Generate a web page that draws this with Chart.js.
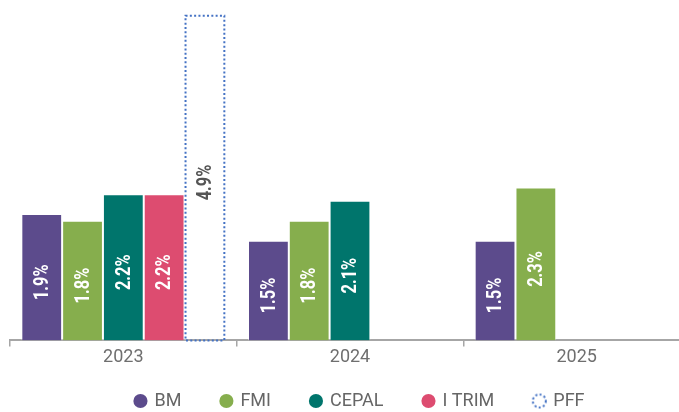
<!DOCTYPE html>
<html>
<head>
<meta charset="utf-8">
<script src="https://cdn.jsdelivr.net/npm/chart.js@4/dist/chart.umd.min.js"></script>
<style>
  html, body { margin: 0; padding: 0; background: #fff; overflow: hidden; }
  #wrap { position: relative; width: 700px; height: 412px; }
</style>
</head>
<body>
<div id="wrap"><canvas id="growthChart"></canvas></div>
<script>
// growth forecasts by source
const categories = ['2023', '2024', '2025'];
const bmValues = [1.9, 1.5, 1.5];
const fmiValues = [1.8, 1.8, 2.3];
const cepalValues = [2.2, 2.1, null];
const itrimValues = [2.2, null, null];
const pffValues = [4.9, null, null];

const PFF_BLUE = '#4472C4';

// dotted circle used as the PFF legend marker
function dottedCircle() {
  const c = document.createElement('canvas');
  c.width = 17; c.height = 17;
  const g = c.getContext('2d');
  g.strokeStyle = PFF_BLUE;
  g.lineWidth = 2;
  g.setLineDash([2, 2.3]);
  g.beginPath();
  g.arc(8.5, 8.5, 6.5, 0, Math.PI * 2);
  g.stroke();
  return c;
}
const pffMarker = dottedCircle();

// rotated percentage labels inside the bars
const barLabels = {
  id: 'barLabels',
  afterDatasetsDraw(chart) {
    const ctx = chart.ctx;
    chart.data.datasets.forEach((ds, di) => {
      const meta = chart.getDatasetMeta(di);
      meta.data.forEach((bar, i) => {
        const v = ds.data[i];
        if (v === null || v === undefined) return;
        const mid = (bar.y + bar.base) / 2 + 5;
        ctx.save();
        ctx.translate(bar.x, mid);
        ctx.rotate(-Math.PI / 2);
        ctx.scale(0.78, 1);
        ctx.font = 'bold 21px Roboto';
        ctx.fillStyle = ds.label === 'PFF' ? '#555555' : '#ffffff';
        ctx.textAlign = 'center';
        ctx.textBaseline = 'middle';
        ctx.fillText(v.toFixed(1) + '%', 0, 1);
        ctx.restore();
      });
    });
  }
};

// dotted outline for the PFF bar, drawn over the axis line
const dottedBar = {
  id: 'dottedBar',
  afterDraw(chart) {
    const ctx = chart.ctx;
    chart.data.datasets.forEach((ds, di) => {
      if (ds.label !== 'PFF') return;
      const meta = chart.getDatasetMeta(di);
      meta.data.forEach((bar, i) => {
        if (ds.data[i] === null) return;
        const left = bar.x - bar.width / 2 + 1;
        ctx.save();
        ctx.strokeStyle = PFF_BLUE;
        ctx.lineWidth = 2;
        ctx.setLineDash([2, 2.3]);
        ctx.strokeRect(left, bar.y + 1, bar.width - 2, bar.base - bar.y - 1);
        ctx.restore();
      });
    });
  }
};

// legend sits a little right of the plot centre and a bit higher in the original
const shiftLegend = {
  id: 'shiftLegend',
  afterLayout(chart) {
    chart.legend.left += 10;
    chart.legend.right += 10;
    chart.legend.top -= 16;
    chart.legend.bottom -= 16;
  }
};

const ctx = document.getElementById('growthChart').getContext('2d');
new Chart(ctx, {
  type: 'bar',
  data: {
    labels: categories,
    datasets: [
      { label: 'BM', data: bmValues, backgroundColor: '#5C4B8C' },
      { label: 'FMI', data: fmiValues, backgroundColor: '#86AE4D' },
      { label: 'CEPAL', data: cepalValues, backgroundColor: '#00756C' },
      { label: 'I TRIM', data: itrimValues, backgroundColor: '#DD4C70' },
      { label: 'PFF', data: pffValues, backgroundColor: 'rgba(0,0,0,0)' }
    ]
  },
  options: {
    responsive: true,
    maintainAspectRatio: false,
    animation: false,
    layout: { padding: { left: 10, right: 10, top: 8, bottom: -24 } },
    datasets: {
      bar: {
        categoryPercentage: 0.9,
        barPercentage: 1.0,
        borderWidth: 1,
        borderColor: 'rgba(255,255,255,0.45)',
        borderSkipped: 'bottom'
      }
    },
    scales: {
      x: {
        grid: {
          display: true,
          drawOnChartArea: false,
          drawTicks: true,
          tickLength: 6,
          color: '#a6a6a6',
          lineWidth: 1.5
        },
        border: { display: true, color: '#a6a6a6', width: 2 },
        ticks: {
          color: '#6f6f6f',
          font: { family: 'Roboto', size: 18 },
          padding: 0
        }
      },
      y: {
        display: false,
        min: 0,
        max: 5
      }
    },
    plugins: {
      tooltip: { enabled: false },
      legend: {
        position: 'bottom',
        labels: {
          color: '#666666',
          font: { family: 'Roboto', size: 18 },
          usePointStyle: true,
          boxWidth: 10,
          boxHeight: 10,
          padding: 40,
          generateLabels(chart) {
            const items = Chart.defaults.plugins.legend.labels.generateLabels(chart);
            items.forEach(it => {
              it.pointStyle = 'circle';
              it.lineWidth = 0;
              it.strokeStyle = 'rgba(0,0,0,0)';
              if (it.text === 'PFF') {
                it.pointStyle = pffMarker;
              }
            });
            return items;
          }
        }
      }
    }
  },
  plugins: [barLabels, dottedBar, shiftLegend]
});
</script>
</body>
</html>
